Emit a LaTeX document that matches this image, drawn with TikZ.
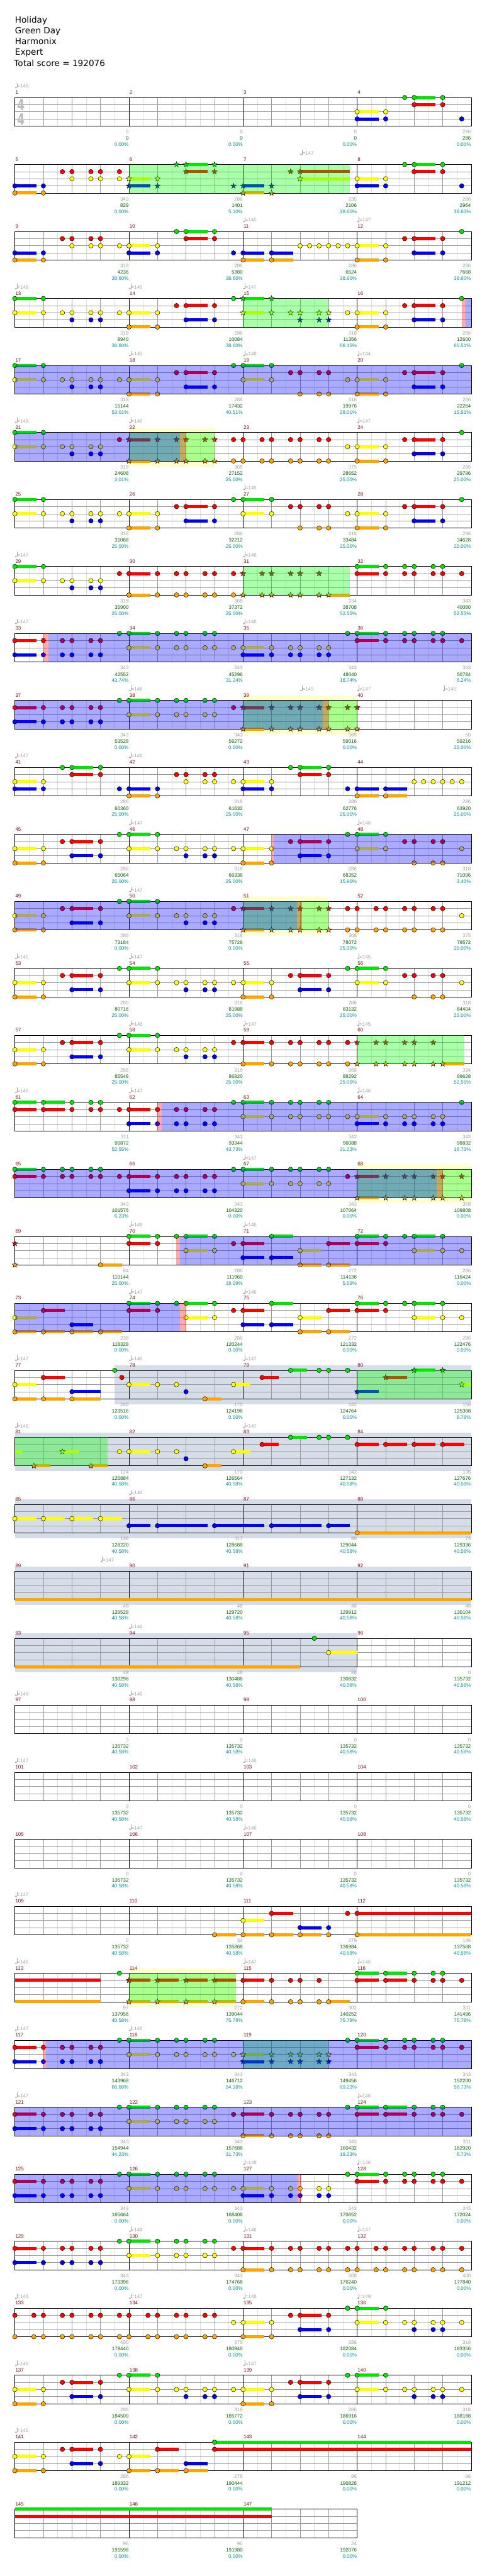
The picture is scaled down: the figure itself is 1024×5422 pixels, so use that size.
\documentclass[tikz,border=0pt]{standalone}
\usepackage{fontspec}
\setmainfont{Liberation Sans}
\newfontfamily\headfont{DejaVu Sans}
\usepackage{tikz}
\usetikzlibrary{calc}
\definecolor{laneG}{RGB}{0,230,0}
\definecolor{laneR}{RGB}{255,0,0}
\definecolor{laneY}{RGB}{255,255,0}
\definecolor{laneB}{RGB}{0,0,255}
\definecolor{laneO}{RGB}{255,165,0}
\definecolor{BarRed}{RGB}{140,0,0}
\definecolor{TempoGrey}{RGB}{165,165,165}
\definecolor{GainGrey}{RGB}{160,160,160}
\definecolor{TotalGreen}{RGB}{0,100,0}
\definecolor{PctCyan}{RGB}{0,150,150}
\definecolor{SoloGrey}{RGB}{213,221,232}
\definecolor{PaleYellow}{RGB}{255,255,208}
\def\lyG{0}\def\lyR{1}\def\lyY{2}\def\lyB{3}\def\lyO{4}
\newcounter{tmk}
\tikzset{
  rowat/.style={shift={(31.3pt,{-205.3pt-141pt*#1})}, x=10pt, y=-15pt},
  eighthline/.style={draw={rgb,255:red,222;green,222;blue,222}, line width=0.7pt},
  beatline/.style={draw={rgb,255:red,155;green,155;blue,155}, line width=0.8pt},
  barline/.style={draw=black, line width=0.8pt},
  staffframe/.style={draw=black, line width=1pt},
  notehead/.style={draw=black, line width=0.6pt},
  spzone/.style={fill={rgb,255:red,0;green,255;blue,0}, fill opacity=0.333},
  actzone/.style={fill={rgb,255:red,0;green,0;blue,255}, fill opacity=0.333},
  hitzone/.style={fill={rgb,255:red,255;green,0;blue,0}, fill opacity=0.333},
  soloband/.style={fill=SoloGrey},
  sparkband/.style={fill=PaleYellow},
  smalltxt/.style={inner sep=0pt, font=\fontsize{10.5}{12}\selectfont},
  barnum/.style={smalltxt, text=BarRed, anchor=base west, xshift=1pt},
  ptgain/.style={smalltxt, text=GainGrey, anchor=base east, xshift=-0.5pt},
  pttotal/.style={smalltxt, text=TotalGreen, anchor=base east, xshift=-0.5pt},
  ptpct/.style={smalltxt, text=PctCyan, anchor=base east, xshift=-0.5pt},
  tempotxt/.style={smalltxt, text=TempoGrey, anchor=base west},
  songinfo/.style={inner sep=0pt, anchor=base west, font=\headfont\fontsize{18}{20}\selectfont},
  timesig/.style={inner sep=0pt, text={rgb,255:red,185;green,185;blue,185}, font=\headfont\bfseries\fontsize{32}{32}\selectfont}
}
% staff of #1 grid units (24 per bar)
\newcommand{\staff}[1]{%
  \pgfmathtruncatemacro\gl{#1-3}\pgfmathtruncatemacro\gq{#1-6}\pgfmathtruncatemacro\gm{#1-24}%
  \draw[eighthline] \foreach \u in {3,9,...,\gl} {(\u,0) -- (\u,4)};
  \draw[beatline] \foreach \u in {6,12,...,\gq} {(\u,0) -- (\u,4)} \foreach \v in {1,2,3} {(0,\v) -- (#1,\v)};
  \draw[barline] \foreach \u in {24,48,...,\gm} {(\u,0) -- (\u,4)};
  \draw[staffframe] (0,0) rectangle (#1,4);}
\newcommand{\sus}[2]{\edef\ly{\csname ly#1\endcsname}%
  \foreach \a/\b in {#2} {\fill[lane#1] (\a,\ly-0.22) rectangle (\b,\ly+0.22);}}
\newcommand{\nt}[2]{\edef\ly{\csname ly#1\endcsname}%
  \foreach \a in {#2} {\draw[notehead,fill=lane#1] (\a,\ly) circle[radius=4.8pt];}}
\newcommand{\st}[2]{\edef\ly{\csname ly#1\endcsname}%
  \foreach \a in {#2} {\draw[notehead,fill=lane#1] (\a,\ly) +(90:6pt) -- +(126:2.5pt) -- +(162:6pt) -- +(198:2.5pt) -- +(234:6pt) -- +(270:2.5pt) -- +(306:6pt) -- +(342:2.5pt) -- +(18:6pt) -- +(54:2.5pt) -- cycle;}}
\newcommand{\zone}[3]{\fill[#1] (#2,0) rectangle (#3,4);}
\newcommand{\band}[3]{\fill[#1] (#2,-0.7) rectangle (#3,4.75);}
\newcommand{\bars}[2]{\foreach \j in {1,...,#2} {\pgfmathtruncatemacro\m{#1+\j-1}%
  \node[barnum] (bar\m) at ({24*(\j-1)},-0.49) {\m};}}
\newcommand{\pts}[2]{\foreach \g/\s/\p [count=\j] in {#2} {\pgfmathtruncatemacro\m{#1+\j-1}%
  \node[ptgain] (gain\m) at (24*\j,5.09) {\g};
  \node[pttotal] (total\m) at (24*\j,5.98) {\s};
  \node[ptpct] (pct\m) at (24*\j,6.83) {\p\%};}}
\newcommand{\bpm}[2]{\stepcounter{tmk}%
  \fill[TempoGrey] ([xshift=2.2pt]#1,-1.4) ellipse[x radius=2.2pt,y radius=1.7pt];
  \draw[TempoGrey,line width=0.6pt] ([xshift=4.1pt]#1,-1.4) -- ([xshift=4.1pt]#1,-2.07);
  \node[tempotxt] (tempo\arabic{tmk}) at ([xshift=4.8pt]#1,-1.35) {=#2};}

\begin{document}
\begin{tikzpicture}[x=1pt,y=-1pt]
\fill[white] (0,0) rectangle (1024,5422);
\useasboundingbox (0,0) rectangle (1024,5422);
\node[songinfo] (title) at (31.5,48.3) {Holiday};
\node[songinfo] (artist) at (31.5,71) {Green Day};
\node[songinfo] (charter) at (31.5,93.7) {Harmonix};
\node[songinfo] (level) at (31.5,116.4) {Expert};
\node[songinfo] (total) at (29.5,139.6) {Total score = 192076};

% bars 1-4
\begin{scope}[rowat=0]
  \staff{96}\bars{1}{4}
  \node[timesig] (tsup) at (1.27,1.05) {\scalebox{0.7}[1]{4}};
  \node[timesig] (tsdown) at (1.27,3.05) {\scalebox{0.7}[1]{4}};
  \sus{G}{84/88.5}\nt{G}{82,84,90}
  \sus{R}{84/88.5}\nt{R}{84,90}
  \sus{Y}{72/76.5}\nt{Y}{72,78}
  \sus{B}{72/76.5}\nt{B}{72,78,94}
  \bpm{0}{146}
  \pts{1}{0/0/0.00,0/0/0.00,0/0/0.00,286/286/0.00}
\end{scope}
% bars 5-8
\begin{scope}[rowat=1]
  \staff{96}\bars{5}{4}
  \sus{G}{36/40.5,84/88.5}\st{G}{34,36,42}\nt{G}{82,84,90}
  \sus{R}{36/40.5,60/70.5,84/88.5}\nt{R}{10,12,16,18,22,84,90}\st{R}{36,42,58,60}
  \sus{Y}{24/28.5,60/70.5,72/76.5}\nt{Y}{12,16,18,22,72,78}\st{Y}{24,30,60}
  \sus{B}{0/4.5,24/28.5,48/52.5,72/76.5}\nt{B}{0,6,72,78,94}\st{B}{24,30,46,48,54}
  \sus{O}{0/4.5,48/52.5}\nt{O}{0,6}\st{O}{48,54}
  \zone{spzone}{24}{70.5}
  \bpm{60}{147}
  \pts{5}{343/829/0.00,286/1401/5.10,235/2106/38.60,286/2964/38.60}
\end{scope}
% bars 9-12
\begin{scope}[rowat=2]
  \staff{96}\bars{9}{4}
  \sus{G}{36/40.5}\nt{G}{34,36,42,94}
  \sus{R}{36/40.5,84/88.5}\nt{R}{10,12,16,18,36,42,82,84,90}
  \sus{Y}{24/28.5,72/76.5}\nt{Y}{12,16,18,22,24,30,60,62,64,66,68,70,72,78}
  \sus{B}{0/4.5,24/28.5,48/52.5,54/58.5,84/88.5}\nt{B}{0,6,24,30,46,48,54,84,90}
  \sus{O}{0/4.5,48/52.5,54/58.5,72/76.5}\nt{O}{0,6,48,54,72,78}
  \bpm{48}{145}\bpm{72}{147}
  \pts{9}{318/4236/38.60,286/5380/38.60,286/6524/38.60,286/7668/38.60}
\end{scope}
% bars 13-16
\begin{scope}[rowat=3]
  \staff{96}\bars{13}{4}
  \sus{G}{0/4.5,48/52.5}\nt{G}{0,6,46,94}\st{G}{48,54}
  \sus{R}{36/40.5,84/88.5}\nt{R}{34,36,42,82,84,90}
  \sus{Y}{0/4.5,24/28.5,48/52.5,72/76.5}\nt{Y}{0,6,10,12,16,18,22,24,30,70,72,78}\st{Y}{48,54,58,60,64,66}
  \sus{B}{36/40.5,84/88.5}\nt{B}{12,16,18,36,42,84,90}\st{B}{60,64,66}
  \sus{O}{24/28.5,72/76.5}\nt{O}{24,30,72,78}
  \zone{spzone}{48}{66}\zone{hitzone}{94}{94.8}\zone{actzone}{94.8}{96}
  \bpm{0}{148}\bpm{24}{145}\bpm{48}{147}
  \pts{13}{318/8940/38.60,286/10084/38.60,318/11356/66.15,286/12600/65.51}
\end{scope}
% bars 17-20
\begin{scope}[rowat=4]
  \staff{96}\bars{17}{4}
  \sus{G}{0/4.5,48/52.5}\nt{G}{0,6,46,48,54,94}
  \sus{R}{36/40.5,84/88.5}\nt{R}{34,36,42,58,60,64,66,82,84,90}
  \sus{Y}{0/4.5,24/28.5,48/52.5,72/76.5}\nt{Y}{0,6,10,12,16,18,22,24,30,48,54,70,72,78}
  \sus{B}{36/40.5,84/88.5}\nt{B}{12,16,18,36,42,84,90}
  \sus{O}{24/28.5,72/76.5}\nt{O}{24,30,60,64,66,72,78}
  \zone{actzone}{0}{96}
  \bpm{24}{145}\bpm{48}{148}\bpm{72}{144}
  \pts{17}{318/15144/53.01,286/17432/40.51,318/19976/28.01,286/22264/15.51}
\end{scope}
% bars 21-24
\begin{scope}[rowat=5]
  \band{sparkband}{24}{42}
  \staff{96}\bars{21}{4}
  \sus{G}{0/4.5}\nt{G}{0,6,94}
  \sus{R}{24/28.5,84/88.5}\nt{R}{22,46,48,52,54,58,60,64,66,82,84,90}\st{R}{24,30,34,36,40,42}
  \sus{Y}{0/4.5,72/76.5}\nt{Y}{0,6,10,12,16,18,70,72,78}
  \sus{B}{84/88.5}\nt{B}{12,16,18,84,90}
  \sus{O}{24/28.5,72/76.5}\nt{O}{46,48,52,54,58,60,64,66,72,78}\st{O}{24,30,34,36,40,42}
  \zone{spzone}{24}{42}\zone{actzone}{0}{34.75}\zone{hitzone}{34.75}{36}
  \bpm{0}{148}\bpm{24}{146}\bpm{72}{147}
  \pts{21}{318/24608/3.01,368/27152/25.00,375/28652/25.00,286/29796/25.00}
\end{scope}
% bars 25-28
\begin{scope}[rowat=6]
  \staff{96}\bars{25}{4}
  \sus{G}{0/4.5,48/52.5}\nt{G}{0,6,46,48,54,94}
  \sus{R}{36/40.5,84/88.5}\nt{R}{34,36,42,58,60,64,66,82,84,90}
  \sus{Y}{0/4.5,24/28.5,48/52.5,72/76.5}\nt{Y}{0,6,10,12,16,18,22,24,30,48,54,70,72,78}
  \sus{B}{36/40.5,84/88.5}\nt{B}{12,16,18,36,42,84,90}
  \sus{O}{24/28.5,72/76.5}\nt{O}{24,30,60,64,66,72,78}
  \bpm{48}{146}
  \pts{25}{318/31068/25.00,286/32212/25.00,318/33484/25.00,286/34628/25.00}
\end{scope}
% bars 29-32
\begin{scope}[rowat=7]
  \staff{96}\bars{29}{4}
  \sus{G}{0/4.5,72/76.5}\nt{G}{0,6,72,78,82,84,88,90}
  \sus{R}{24/28.5,72/76.5}\nt{R}{22,24,30,34,36,40,42,46,72,78,82,84,88,90,94}\st{R}{48,52,54,58,60,64}
  \sus{Y}{0/4.5}\nt{Y}{0,6,10,12,16,18}
  \nt{B}{12,16,18}
  \sus{O}{24/28.5,66/70.5}\nt{O}{24,30,34,36,40,42,46}\st{O}{48,52,54,58,60,64,66}
  \zone{spzone}{48}{70.5}
  \bpm{0}{147}\bpm{48}{146}
  \pts{29}{318/35900/25.00,368/37372/25.00,334/38708/52.55,343/40080/52.55}
\end{scope}
% bars 33-36
\begin{scope}[rowat=8]
  \staff{96}\bars{33}{4}
  \sus{G}{24/28.5,72/76.5}\nt{G}{22,24,30,34,36,40,42,70,72,78,82,84,88,90}
  \sus{R}{0/4.5,72/76.5}\nt{R}{0,6,10,12,16,18,72,78,82,84,88,90,94}
  \sus{Y}{24/28.5,48/52.5}\nt{Y}{24,30,34,36,40,42,46,48,54,58,60,64,66}
  \sus{B}{0/4.5,48/52.5}\nt{B}{0,6,10,12,16,18,48,54,58,60,64,66}
  \zone{hitzone}{6}{7}\zone{actzone}{7}{96}
  \bpm{0}{147}\bpm{48}{146}
  \pts{33}{343/42552/43.74,343/45296/31.24,343/48040/18.74,343/50784/6.24}
\end{scope}
% bars 37-40
\begin{scope}[rowat=9]
  \band{sparkband}{48}{72}
  \staff{96}\bars{37}{4}
  \sus{G}{24/28.5}\nt{G}{22,24,30,34,36,40,42}
  \sus{R}{0/4.5,48/52.5}\nt{R}{0,6,10,12,16,18,46}\st{R}{48,54,58,60,64,66,70,72}
  \sus{Y}{24/28.5}\nt{Y}{24,30,34,36,40,42}
  \sus{B}{0/4.5}\nt{B}{0,6,10,12,16,18}
  \sus{O}{48/52.5}\st{O}{48,54,58,60,64,66,70,72}
  \zone{spzone}{48}{72}\zone{actzone}{0}{64.8}\zone{hitzone}{64.8}{66}
  \bpm{24}{148}\bpm{60}{145}\bpm{72}{147}\bpm{90}{145}
  \pts{37}{343/53528/0.00,343/56272/0.00,368/59016/0.00,50/59216/25.00}
\end{scope}
% bars 41-44
\begin{scope}[rowat=10]
  \staff{96}\bars{41}{4}
  \sus{G}{12/16.5,60/64.5}\nt{G}{10,12,18,58,60,66}
  \sus{R}{12/16.5,60/64.5}\nt{R}{12,18,34,36,40,42,60,66}
  \sus{Y}{0/4.5,48/52.5}\nt{Y}{0,6,36,40,42,46,48,54,84,86,88,90,92,94}
  \sus{B}{0/4.5,24/28.5,48/52.5,72/76.5,78/82.5}\nt{B}{0,6,22,24,30,48,54,70,72,78}
  \sus{O}{24/28.5,72/76.5,78/82.5}\nt{O}{24,30,72,78}
  \bpm{0}{147}\bpm{24}{146}
  \pts{41}{286/60360/25.00,318/61632/25.00,286/62776/25.00,286/63920/25.00}
\end{scope}
% bars 45-48
\begin{scope}[rowat=11]
  \staff{96}\bars{45}{4}
  \sus{G}{24/28.5,72/76.5}\nt{G}{22,24,30,70,72,78}
  \sus{R}{12/16.5,60/64.5}\nt{R}{10,12,18,58,60,66,82,84,88,90}
  \sus{Y}{0/4.5,24/28.5,48/52.5,72/76.5}\nt{Y}{0,6,24,30,34,36,40,42,46,48,54,72,78,94}
  \sus{B}{12/16.5,60/64.5}\nt{B}{12,18,36,40,42,60,66}
  \sus{O}{0/4.5,48/52.5}\nt{O}{0,6,48,54,84,88,90}
  \zone{hitzone}{54}{54.5}\zone{actzone}{54.5}{96}
  \bpm{24}{147}\bpm{72}{146}
  \pts{45}{286/65064/25.00,318/66336/25.00,286/68352/15.90,318/71096/3.40}
\end{scope}
% bars 49-52
\begin{scope}[rowat=12]
  \band{sparkband}{48}{66}
  \staff{96}\bars{49}{4}
  \sus{G}{24/28.5}\nt{G}{22,24,30}
  \sus{R}{12/16.5,48/52.5}\nt{R}{10,12,18,46,70,72,76,78,82,84,88,90}\st{R}{48,54,58,60,64,66}
  \sus{Y}{0/4.5,24/28.5}\nt{Y}{0,6,24,30,34,36,40,42,94}
  \sus{B}{12/16.5}\nt{B}{12,18,36,40,42}
  \sus{O}{0/4.5,48/52.5}\nt{O}{0,6,70,72,76,78,82,84,88,90}\st{O}{48,54,58,60,64,66}
  \zone{spzone}{48}{66}\zone{actzone}{0}{59.4}\zone{hitzone}{59.4}{60.4}
  \bpm{24}{147}
  \pts{49}{286/73184/0.00,318/75728/0.00,368/78072/25.00,375/79572/25.00}
\end{scope}
% bars 53-56
\begin{scope}[rowat=13]
  \staff{96}\bars{53}{4}
  \sus{G}{24/28.5,72/76.5}\nt{G}{22,24,30,70,72,78}
  \sus{R}{12/16.5,60/64.5}\nt{R}{10,12,18,58,60,66,82,84,88,90}
  \sus{Y}{0/4.5,24/28.5,48/52.5,72/76.5}\nt{Y}{0,6,24,30,34,36,40,42,46,48,54,72,78,94}
  \sus{B}{12/16.5,60/64.5}\nt{B}{12,18,36,40,42,60,66}
  \sus{O}{0/4.5,48/52.5}\nt{O}{0,6,48,54,84,88,90}
  \bpm{0}{145}\bpm{24}{147}\bpm{72}{146}
  \pts{53}{286/80716/25.00,318/81988/25.00,286/83132/25.00,318/84404/25.00}
\end{scope}
% bars 57-60
\begin{scope}[rowat=14]
  \staff{96}\bars{57}{4}
  \sus{G}{24/28.5}\nt{G}{22,24,30}
  \sus{R}{12/16.5,48/52.5}\nt{R}{10,12,18,46,48,54,58,60,64,66,70}\st{R}{72,76,78,82,84,88}
  \sus{Y}{0/4.5,24/28.5}\nt{Y}{0,6,24,30,34,36,40,42}
  \sus{B}{12/16.5}\nt{B}{12,18,36,40,42}
  \sus{O}{0/4.5,48/52.5,90/94.5}\nt{O}{0,6,48,54,58,60,64,66,70}\st{O}{72,76,78,82,84,88,90}
  \zone{spzone}{72}{94.5}
  \bpm{24}{148}\bpm{48}{147}\bpm{72}{145}
  \pts{57}{286/85548/25.00,318/86820/25.00,368/88292/25.00,334/89628/52.55}
\end{scope}
% bars 61-64
\begin{scope}[rowat=15]
  \staff{96}\bars{61}{4}
  \sus{G}{0/4.5,6/10.5,48/52.5}\nt{G}{0,6,12,16,18,46,48,54,58,60,64,66,94}
  \sus{R}{0/4.5,6/10.5,24/28.5}\nt{R}{0,6,12,16,18,22,24,30,34,36,40,42}
  \sus{Y}{48/52.5,72/76.5}\nt{Y}{48,54,58,60,64,66,70,72,78,82,84,88,90}
  \sus{B}{24/28.5,72/76.5}\nt{B}{24,30,34,36,40,42,72,78,82,84,88,90}
  \zone{hitzone}{30}{30.9}\zone{actzone}{30.9}{96}
  \bpm{0}{146}\bpm{24}{147}\bpm{72}{146}
  \pts{61}{311/90872/52.55,343/93344/43.73,343/96088/31.23,343/98832/18.73}
\end{scope}
% bars 65-68
\begin{scope}[rowat=16]
  \band{sparkband}{72}{96}
  \staff{96}\bars{65}{4}
  \sus{G}{0/4.5,48/52.5}\nt{G}{0,6,10,12,16,18,46,48,54,58,60,64,66}
  \sus{R}{0/4.5,24/28.5,72/76.5}\nt{R}{0,6,10,12,16,18,22,24,30,34,36,40,42,70}\st{R}{72,78,82,84,88,90,94}
  \sus{Y}{48/52.5}\nt{Y}{48,54,58,60,64,66}
  \sus{B}{24/28.5}\nt{B}{24,30,34,36,40,42}
  \sus{O}{72/76.5}\st{O}{72,78,82,84,88,90,94}
  \zone{spzone}{72}{96}\zone{actzone}{0}{88.8}\zone{hitzone}{88.8}{90}
  \bpm{48}{147}
  \pts{65}{343/101576/6.23,343/104320/0.00,343/107064/0.00,368/109808/0.00}
\end{scope}
% bars 69-72
\begin{scope}[rowat=17]
  \staff{96}\bars{69}{4}
  \st{R}{0}\st{O}{0}
  \sus{G}{24/28.5,36/40.5,54/58.5,72/76.5,84/88.5}\nt{G}{24,30,34,36,42,54,72,78,82,84,90}
  \sus{R}{24/28.5,48/52.5,66/70.5,72/76.5}\nt{R}{24,30,46,48,66,72,78}
  \sus{Y}{36/40.5,60/64.5,84/88.5}\nt{Y}{36,42,60,84,90,94}
  \sus{B}{48/52.5,54/58.5}\nt{B}{48,54}
  \sus{O}{18/22.5,60/64.5,66/70.5}\nt{O}{18,60,66}
  \zone{hitzone}{34}{34.75}\zone{actzone}{34.75}{96}
  \bpm{24}{148}\bpm{48}{146}
  \pts{69}{84/110144/25.00,286/111960/18.09,272/114136/5.59,286/116424/0.00}
\end{scope}
% bars 73-76
\begin{scope}[rowat=18]
  \staff{96}\bars{73}{4}
  \sus{G}{24/28.5,36/40.5,54/58.5,72/76.5,84/88.5}\nt{G}{24,30,34,36,42,54,72,78,82,84,90}
  \sus{R}{6/10.5,24/28.5,48/52.5,66/70.5,72/76.5}\nt{R}{6,24,30,46,48,66,72,78}
  \sus{Y}{0/4.5,36/40.5,60/64.5,84/88.5}\nt{Y}{0,36,42,60,84,90,94}
  \sus{B}{12/16.5,48/52.5,54/58.5}\nt{B}{12,48,54}
  \sus{O}{0/4.5,6/10.5,12/16.5,18/22.5,60/64.5,66/70.5}\nt{O}{0,6,12,18,60,66}
  \zone{actzone}{0}{34.75}\zone{hitzone}{34.75}{36}
  \bpm{24}{147}\bpm{48}{146}
  \pts{73}{238/118328/0.00,286/120244/0.00,272/121332/0.00,286/122476/0.00}
\end{scope}
% bars 77-80
\begin{scope}[rowat=19]
  \band{soloband}{21}{96}
  \staff{96}\bars{77}{4}
  \sus{G}{58/61.5,84/88.5}\nt{G}{21,58,64,66,70}\st{G}{84,90}
  \sus{R}{6/10.5,52/55.5,78/82.5}\nt{R}{6,22.5,52}\st{R}{78}
  \sus{Y}{0/4.5,24/28.5,46/49.5,94/96}\nt{Y}{0,24,30,34,46}\st{Y}{94}
  \sus{B}{12/18,72/76.5}\nt{B}{12,36}\st{B}{72}
  \sus{O}{0/4.5,6/10.5,12/18,40/43.5}\nt{O}{0,6,12,40}
  \zone{spzone}{72}{96}
  \bpm{0}{147}\bpm{24}{146}\bpm{48}{147}
  \pts{77}{260/123516/0.00,170/124196/0.00,142/124764/0.00,156/125388/8.78}
\end{scope}
% bars 81-84
\begin{scope}[rowat=20]
  \band{soloband}{0}{96}
  \staff{96}\bars{81}{4}
  \sus{G}{58/61.5}\nt{G}{58,64,66,70}
  \sus{R}{52/55.5,72/76.5,78/82.5,84/88.5,90/94.5}\nt{R}{52,72,78,84,90}
  \sus{Y}{0/1.5,10/13.5,24/28.5,46/49.5}\st{Y}{10}\nt{Y}{22,24,30,34,46}
  \nt{B}{36}
  \sus{O}{4/7.5,16/19.5,40/43.5}\st{O}{4,16}\nt{O}{40}
  \zone{spzone}{0}{19.5}
  \bpm{0}{146}\bpm{48}{147}
  \pts{81}{124/125884/40.58,170/126564/40.58,142/127132/40.58,136/127676/40.58}
\end{scope}
% bars 85-88
\begin{scope}[rowat=21]
  \band{soloband}{0}{96}
  \staff{96}\bars{85}{4}
  \sus{Y}{0/4.5,6/10.5,12/16.5,18/22.5}\nt{Y}{0,6,12,18}
  \sus{B}{24/28.5,30/40.5,42/52.5,54/64.5,66/70.5}\nt{B}{24,30,42,54,66}
  \sus{O}{72/96}\nt{O}{72}
  \bpm{24}{146}
  \pts{85}{136/128220/40.58,117/128688/40.58,89/129044/40.58,73/129336/40.58}
\end{scope}
% bars 89-92
\begin{scope}[rowat=22]
  \band{soloband}{0}{96}
  \staff{96}\bars{89}{4}
  \sus{O}{0/96}
  \bpm{18}{147}
  \pts{89}{48/129528/40.58,48/129720/40.58,48/129912/40.58,48/130104/40.58}
\end{scope}
% bars 93-96
\begin{scope}[rowat=23]
  \band{soloband}{0}{72}
  \staff{96}\bars{93}{4}
  \sus{O}{0/60}
  \nt{G}{63}
  \sus{Y}{66/72}\nt{Y}{66}
  \bpm{24}{146}
  \pts{93}{48/130296/40.58,48/130488/40.58,86/130832/40.58,0/135732/40.58}
\end{scope}
% bars 97-100
\begin{scope}[rowat=24]
  \staff{96}\bars{97}{4}
  \bpm{0}{148}\bpm{24}{146}
  \pts{97}{0/135732/40.58,0/135732/40.58,0/135732/40.58,0/135732/40.58}
\end{scope}
% bars 101-104
\begin{scope}[rowat=25]
  \staff{96}\bars{101}{4}
  \bpm{0}{147}\bpm{48}{146}
  \pts{101}{0/135732/40.58,0/135732/40.58,0/135732/40.58,0/135732/40.58}
\end{scope}
% bars 105-108
\begin{scope}[rowat=26]
  \staff{96}\bars{105}{4}
  \bpm{24}{147}\bpm{48}{146}
  \pts{105}{0/135732/40.58,0/135732/40.58,0/135732/40.58,0/135732/40.58}
\end{scope}
% bars 109-112
\begin{scope}[rowat=27]
  \staff{96}\bars{109}{4}
  \sus{R}{54/58.5,72/96}\nt{R}{54,70,72}
  \sus{Y}{48/52.5}\nt{Y}{48}
  \sus{B}{60/64.5}\nt{B}{60,66}
  \sus{O}{42/46.5,48/52.5,54/58.5,60/64.5,72/96}\nt{O}{42,48,54,60,66,72}
  \bpm{0}{147}
  \pts{109}{0/135732/40.58,34/135868/40.58,279/136984/40.58,146/137568/40.58}
\end{scope}
% bars 113-116
\begin{scope}[rowat=28]
  \band{sparkband}{24}{46.5}
  \staff{96}\bars{113}{4}
  \sus{G}{72/76.5,78/82.5}\nt{G}{22,72,78,84,88,90}
  \sus{R}{0/18,24/28.5,30/34.5,36/40.5,42/46.5,48/52.5,72/76.5,78/82.5}\st{R}{24,30,36,42}\nt{R}{48,54,58,60,64,72,78,84,88,90,94}
  \sus{O}{0/18,24/28.5,30/34.5,36/40.5,42/46.5,48/52.5,66/70.5}\st{O}{24,30,36,42}\nt{O}{48,54,58,60,64,66}
  \zone{spzone}{24}{46.5}
  \bpm{0}{146}\bpm{48}{147}\bpm{72}{146}
  \pts{113}{97/137956/40.58,272/139044/75.78,302/140252/75.78,311/141496/75.78}
\end{scope}
% bars 117-120
\begin{scope}[rowat=29]
  \staff{96}\bars{117}{4}
  \sus{G}{24/28.5,72/76.5}\nt{G}{22,24,30,34,36,40,42,70,72,78,82,84,88,90}
  \sus{R}{0/4.5,72/76.5}\nt{R}{0,6,10,12,16,18,72,78,82,84,88,90,94}
  \sus{Y}{24/28.5,48/52.5}\nt{Y}{24,30,34,36,40,42,46}\st{Y}{48,54,58,60,64,66}
  \sus{B}{0/4.5,48/52.5}\nt{B}{0,6,10,12,16,18}\st{B}{48,54,58,60,64,66}
  \zone{spzone}{48}{66}\zone{hitzone}{6}{6.5}\zone{actzone}{6.5}{96}
  \bpm{0}{147}\bpm{24}{146}
  \pts{117}{343/143968/66.68,343/146712/54.18,343/149456/69.23,343/152200/56.73}
\end{scope}
% bars 121-124
\begin{scope}[rowat=30]
  \staff{96}\bars{121}{4}
  \sus{G}{24/28.5,72/76.5,78/82.5}\nt{G}{22,24,30,34,36,40,42,70,72,78,84,88,90}
  \sus{R}{0/4.5,48/52.5,72/76.5,78/82.5}\nt{R}{0,6,10,12,16,18,46,48,54,58,60,64,66,72,78,84,88,90,94}
  \sus{Y}{24/28.5}\nt{Y}{24,30,34,36,40,42}
  \sus{B}{0/4.5}\nt{B}{0,6,10,12,16,18}
  \sus{O}{48/52.5}\nt{O}{48,54,58,60,64,66}
  \zone{actzone}{0}{96}
  \bpm{0}{147}\bpm{72}{146}
  \pts{121}{343/154944/44.23,343/157688/31.73,343/160432/19.23,311/162920/6.73}
\end{scope}
% bars 125-128
\begin{scope}[rowat=31]
  \staff{96}\bars{125}{4}
  \sus{G}{24/28.5,72/76.5}\nt{G}{22,24,30,34,36,40,42,70,72,78,82,84,88,90}
  \sus{R}{0/4.5,72/76.5}\nt{R}{0,6,10,12,16,18,72,78,82,84,88,90,94}
  \sus{Y}{24/28.5,48/52.5}\nt{Y}{24,30,34,36,40,42,46,48,54,58,60,64,66}
  \sus{B}{0/4.5,48/52.5}\nt{B}{0,6,10,12,16,18,48,54,58,60,64,66}
  \zone{actzone}{0}{59.5}\zone{hitzone}{59.5}{60.3}
  \bpm{48}{148}\bpm{72}{146}
  \pts{125}{343/165664/0.00,343/168408/0.00,343/170652/0.00,343/172024/0.00}
\end{scope}
% bars 129-132
\begin{scope}[rowat=32]
  \staff{96}\bars{129}{4}
  \sus{G}{24/28.5}\nt{G}{22,24,30,34,36,40,42}
  \sus{R}{0/4.5,48/52.5}\nt{R}{0,6,10,12,16,18,46,48,54,58,60,64,66,70,72,76,78,82,84,88,90,94}
  \sus{Y}{24/28.5}\nt{Y}{24,30,34,36,40,42}
  \sus{B}{0/4.5}\nt{B}{0,6,10,12,16,18}
  \sus{O}{48/52.5}\nt{O}{48,54,58,60,64,66,70,72,76,78,82,84,88,90,94}
  \bpm{24}{148}\bpm{48}{146}\bpm{72}{147}
  \pts{129}{343/173396/0.00,343/174768/0.00,368/176240/0.00,400/177840/0.00}
\end{scope}
% bars 133-136
\begin{scope}[rowat=33]
  \staff{96}\bars{133}{4}
  \sus{G}{72/76.5}\nt{G}{70,72,78}
  \sus{R}{60/64.5}\nt{R}{0,4,6,10,12,16,18,22,24,28,30,34,36,40,42,58,60,66}
  \sus{Y}{48/52.5,72/76.5}\nt{Y}{46,48,54,72,78,82,84,88,90,94}
  \sus{B}{60/64.5}\nt{B}{60,66,84,88,90}
  \sus{O}{48/52.5}\nt{O}{0,4,6,10,12,16,18,22,24,28,30,34,36,40,42,48,54}
  \bpm{0}{146}\bpm{24}{147}\bpm{48}{146}\bpm{72}{149}
  \pts{133}{400/179440/0.00,375/180940/0.00,286/182084/0.00,318/183356/0.00}
\end{scope}
% bars 137-140
\begin{scope}[rowat=34]
  \staff{96}\bars{137}{4}
  \sus{G}{24/28.5,72/76.5}\nt{G}{22,24,30,70,72,78}
  \sus{R}{12/16.5,60/64.5}\nt{R}{10,12,18,58,60,66}
  \sus{Y}{0/4.5,24/28.5,48/52.5,72/76.5}\nt{Y}{0,6,24,30,34,36,40,42,46,48,54,72,78,82,84,88,90,94}
  \sus{B}{12/16.5,60/64.5}\nt{B}{12,18,36,40,42,60,66,84,88,90}
  \sus{O}{0/4.5,48/52.5}\nt{O}{0,6,48,54}
  \bpm{0}{146}\bpm{48}{147}
  \pts{137}{286/184500/0.00,318/185772/0.00,286/186916/0.00,318/188188/0.00}
\end{scope}
% bars 141-144
\begin{scope}[rowat=35]
  \staff{96}\bars{141}{4}
  \sus{G}{42/96}\nt{G}{42}
  \sus{R}{12/16.5,30/34.5,42/96}\nt{R}{10,12,18,30,42}
  \sus{Y}{0/4.5,24/28.5}\nt{Y}{0,6,22,24}
  \sus{B}{12/16.5,36/40.5}\nt{B}{12,18,36}
  \sus{O}{0/4.5,24/28.5,30/34.5,36/40.5}\nt{O}{0,6,24,30,36}
  \bpm{0}{145}
  \pts{141}{286/189332/0.00,278/190444/0.00,96/190828/0.00,96/191212/0.00}
\end{scope}
% bars 145-147
\begin{scope}[rowat=36]
  \staff{72}\bars{145}{3}
  \sus{G}{0/54}\sus{R}{0/54}
  \pts{145}{96/191596/0.00,96/191980/0.00,24/192076/0.00}
\end{scope}
\end{tikzpicture}
\end{document}
